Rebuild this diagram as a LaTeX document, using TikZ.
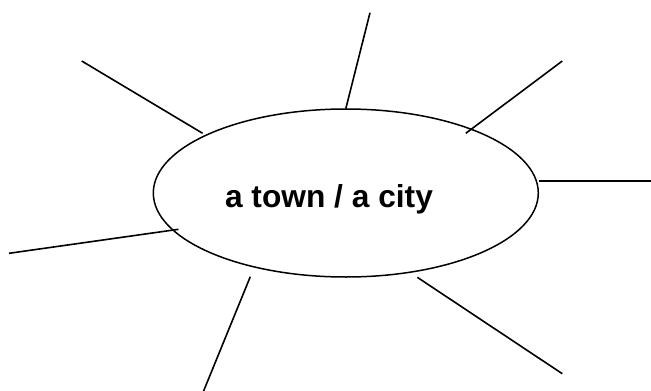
\documentclass[tikz,border=0pt]{standalone}
\usepackage{fontspec}
\setmainfont{Liberation Sans}
\usepackage{tikz}
\usetikzlibrary{shapes.geometric, calc}

\begin{document}
\begin{tikzpicture}[
      x=1pt, y=-1pt,
      line join=round,
      topic/.style={
        draw=black,
        ellipse,
        minimum width=385pt,
        minimum height=168pt,
        inner sep=0pt,
        line width=1.5pt
      },
      topictext/.style={
        font=\fontsize{31.7}{38}\selectfont\bfseries,
        inner sep=0pt,
        anchor=base
      },
      spoke/.style={draw=black, line width=1.6pt}
    ]
    \useasboundingbox (0,0) rectangle (651,391);

    % Central topic
    \node[topic] (town) at (345.8,193) {};
    \node[topictext] (townlabel) at (329,207) {a town / a city};

    % Inner ends of the spokes
    \coordinate (Iupleft) at (202.6,133.3);
    \coordinate (Itop) at (345.8,108.7);
    \coordinate (Iupright) at (465.8,133.3);
    \coordinate (Iright) at (538.5,180.8);
    \coordinate (Ileft) at (178.5,229.3);
    \coordinate (Idownright) at (417.3,277.3);
    \coordinate (Idownleft) at (250.3,276.7);

    % Outer (free) ends of the spokes
    \coordinate (Oupleft) at (81.7,61);
    \coordinate (Otop) at (370,12.7);
    \coordinate (Oupright) at (562.3,61);
    \coordinate (Oright) at (651,180.8);
    \coordinate (Oleft) at (9,253.3);
    \coordinate (Odownright) at (562.3,373.7);
    \coordinate (Odownleft) at (203.6,391);

    % Spokes
    \draw[spoke] (Iupleft) -- (Oupleft);
    \draw[spoke] (Itop) -- (Otop);
    \draw[spoke] (Iupright) -- (Oupright);
    \draw[spoke] (Iright) -- (Oright);
    \draw[spoke] (Ileft) -- (Oleft);
    \draw[spoke] (Idownright) -- (Odownright);
    \draw[spoke] (Idownleft) -- (Odownleft);

  \end{tikzpicture}
\end{document}
